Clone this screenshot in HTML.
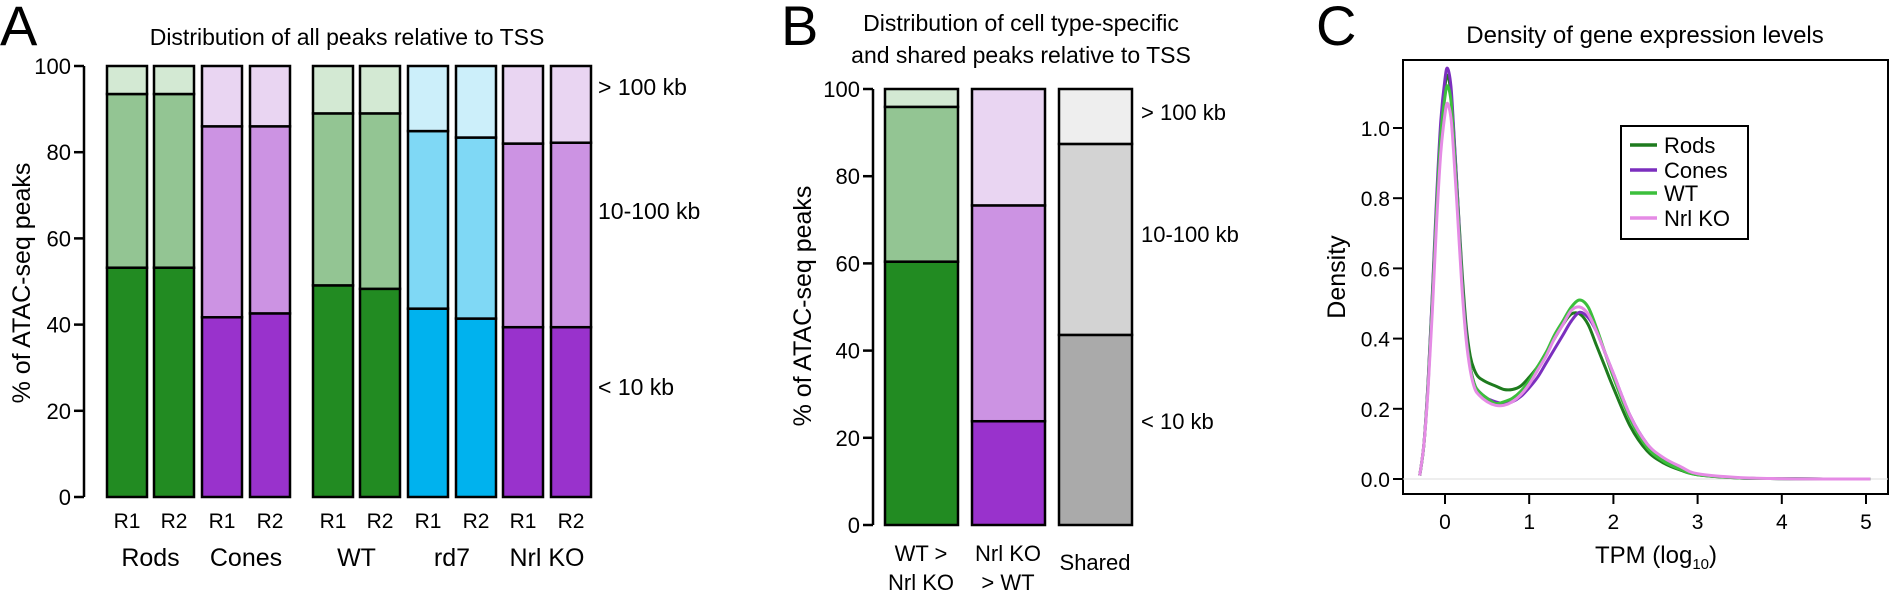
<!DOCTYPE html>
<html><head><meta charset="utf-8"><style>
body{margin:0;background:#fff;}
svg{display:block;font-family:"Liberation Sans",Arial,sans-serif;}
</style></head><body>
<svg id="fig" width="1890" height="591" viewBox="0 0 1890 591"></svg>
<script>
// Panel A data
const aLabels = ["R1","R2","R1","R2","R1","R2","R1","R2","R1","R2"];
const aGroups = ["Rods","Cones","WT","rd7","Nrl KO"];
const aLt10 = [53.2,53.2,41.7,42.6,49.1,48.3,43.7,41.4,39.4,39.4];
const aTo100 = [93.5,93.5,86,86,89,89,84.9,83.4,82,82.2];
const aTicks = [0,20,40,60,80,100];
// Panel B data
const bCats = [["WT >","Nrl KO"],["Nrl KO","> WT"],["Shared"]];
const bLt10 = [60.4,23.8,43.6];
const bTo100 = [95.9,73.3,87.4];
// Panel C data
const cX = [-0.3,-0.25,-0.2,-0.15,-0.1,-0.05,0,0.03,0.07,0.1,0.15,0.2,0.25,0.3,0.35,0.4,0.5,0.6,0.7,0.8,0.9,1.0,1.1,1.2,1.3,1.4,1.5,1.6,1.7,1.8,1.9,2.0,2.2,2.4,2.6,2.8,3.0,3.5,4.0,4.5,5.05];
const cRods = [0.01,0.1,0.28,0.52,0.78,1.0,1.12,1.15,1.1,1.0,0.8,0.6,0.44,0.35,0.31,0.29,0.275,0.265,0.255,0.255,0.265,0.29,0.32,0.36,0.40,0.44,0.47,0.47,0.44,0.38,0.32,0.26,0.15,0.08,0.045,0.025,0.012,0.003,0.001,0,0];
const cCones = [0.01,0.1,0.28,0.53,0.8,1.02,1.14,1.17,1.12,1.01,0.8,0.58,0.42,0.32,0.27,0.25,0.23,0.22,0.215,0.22,0.235,0.26,0.29,0.33,0.37,0.41,0.45,0.475,0.46,0.42,0.36,0.30,0.18,0.10,0.055,0.03,0.013,0.003,0.001,0,0];
const cWT = [0.01,0.1,0.27,0.51,0.77,0.98,1.09,1.12,1.08,0.98,0.78,0.57,0.41,0.32,0.27,0.25,0.23,0.215,0.22,0.23,0.25,0.28,0.32,0.36,0.41,0.45,0.49,0.51,0.49,0.43,0.36,0.29,0.17,0.09,0.05,0.027,0.012,0.003,0.001,0,0];
const cKO = [0.01,0.1,0.26,0.48,0.73,0.93,1.04,1.07,1.03,0.94,0.75,0.55,0.4,0.31,0.26,0.24,0.22,0.21,0.21,0.22,0.24,0.27,0.31,0.35,0.40,0.44,0.48,0.49,0.47,0.42,0.36,0.30,0.18,0.10,0.06,0.035,0.015,0.004,0.001,0,0];
const cXTicks = [0,1,2,3,4,5];
const cYTicks = [0,0.2,0.4,0.6,0.8,1.0];

const NS="http://www.w3.org/2000/svg";
const svg=document.getElementById('fig');
function mk(tag,attrs,parent,text){const e=document.createElementNS(NS,tag);for(const k in attrs)e.setAttribute(k,attrs[k]);if(text!==undefined)e.textContent=text;(parent||svg).appendChild(e);return e;}

// ---------- Panel A ----------
const A={x0:84,y0:497,y100:66};
const ay=v=>A.y0-(A.y0-A.y100)*v/100;
const barX=[107,154,202,250,313,360,408,456,503,551];
const aCols=[["#228B22","#93C593","#D3E9D3"],["#228B22","#93C593","#D3E9D3"],["#9932CC","#CC93E3","#E9D5F2"],["#9932CC","#CC93E3","#E9D5F2"],["#228B22","#93C593","#D3E9D3"],["#228B22","#93C593","#D3E9D3"],["#00B2EE","#7FD8F5","#CCEFFA"],["#00B2EE","#7FD8F5","#CCEFFA"],["#9932CC","#CC93E3","#E9D5F2"],["#9932CC","#CC93E3","#E9D5F2"]];
let t=mk('text',{x:0,y:45,'font-size':56},svg,"A");

t=mk('text',{x:347,y:45,'font-size':23,'text-anchor':'middle'},svg,"Distribution of all peaks relative to TSS");

let l=mk('line',{x1:A.x0,x2:A.x0,y1:ay(0),y2:ay(100),stroke:'#000','stroke-width':2.5});

aTicks.forEach(v=>{
  const tk=mk('line',{x1:A.x0-10,x2:A.x0,y1:ay(v),y2:ay(v),stroke:'#000','stroke-width':2.5});
  
  const tl=mk('text',{x:A.x0-13,y:ay(v)+8,'font-size':22,'text-anchor':'end'},svg,String(v));
  
});
t=mk('text',{x:0,y:0,'font-size':25,'text-anchor':'middle',transform:'translate(30,283) rotate(-90)'},svg,"% of ATAC-seq peaks");

aLt10.forEach((v,i)=>{
  const segs=[[0,v],[v,aTo100[i]],[aTo100[i],100]];
  segs.forEach((s,j)=>{
    const r=mk('rect',{x:barX[i],y:ay(s[1]),width:40,height:ay(s[0])-ay(s[1]),fill:aCols[i][j],stroke:'#000','stroke-width':2.5});
    
  });
  const tl=mk('text',{x:barX[i]+20,y:528,'font-size':21,'text-anchor':'middle'},svg,aLabels[i]);
  
});
aGroups.forEach((g,k)=>{
  const cx=(barX[2*k]+barX[2*k+1]+40)/2;
  const tl=mk('text',{x:cx,y:566,'font-size':25,'text-anchor':'middle'},svg,g);
  
});
[["> 100 kb",87],["10-100 kb",211],["< 10 kb",387]].forEach(d=>{
  const tl=mk('text',{x:598,y:d[1]+8,'font-size':23},svg,d[0]);
  
});

// ---------- Panel B ----------
const B={x0:873,y0:525,y100:89};
const by=v=>B.y0-(B.y0-B.y100)*v/100;
const bX=[885,972,1059];
const bCols=[["#228B22","#93C593","#D3E9D3"],["#9932CC","#CC93E3","#E9D5F2"],["#AAAAAA","#D3D3D3","#EEEEEE"]];
t=mk('text',{x:781,y:45,'font-size':56},svg,"B");

t=mk('text',{x:1021,y:31,'font-size':23,'text-anchor':'middle'},svg,"Distribution of cell type-specific");

t=mk('text',{x:1021,y:63,'font-size':23,'text-anchor':'middle'},svg,"and shared peaks relative to TSS");

l=mk('line',{x1:B.x0,x2:B.x0,y1:by(0),y2:by(100),stroke:'#000','stroke-width':2.5});

aTicks.forEach(v=>{
  const tk=mk('line',{x1:B.x0-10,x2:B.x0,y1:by(v),y2:by(v),stroke:'#000','stroke-width':2.5});
  
  const tl=mk('text',{x:B.x0-13,y:by(v)+8,'font-size':22,'text-anchor':'end'},svg,String(v));
  
});
t=mk('text',{x:0,y:0,'font-size':25,'text-anchor':'middle',transform:'translate(811,306) rotate(-90)'},svg,"% of ATAC-seq peaks");

bLt10.forEach((v,i)=>{
  const segs=[[0,v],[v,bTo100[i]],[bTo100[i],100]];
  segs.forEach((s,j)=>{
    const r=mk('rect',{x:bX[i],y:by(s[1]),width:73,height:by(s[0])-by(s[1]),fill:bCols[i][j],stroke:'#000','stroke-width':2.5});
    
  });
  const lines=bCats[i];
  lines.forEach((ln,k)=>{
    const yy=lines.length===1?570:561+k*29;
    const tl=mk('text',{x:bX[i]+36,y:yy,'font-size':22,'text-anchor':'middle'},svg,ln);
    
  });
});
[["> 100 kb",112],["10-100 kb",234],["< 10 kb",421]].forEach(d=>{
  const tl=mk('text',{x:1141,y:d[1]+8,'font-size':22},svg,d[0]);
  
});

// ---------- Panel C ----------
const C={l:1403,r:1888,t:60,b:494,x0px:1445,xUnit:84.2,y0px:479,yUnit:351};
const cxs=v=>C.x0px+v*C.xUnit;
const cys=v=>C.y0px-v*C.yUnit;
t=mk('text',{x:1316,y:45,'font-size':56},svg,"C");

t=mk('text',{x:1645,y:43,'font-size':24,'text-anchor':'middle'},svg,"Density of gene expression levels");

let r=mk('rect',{x:C.l,y:C.t,width:C.r-C.l,height:C.b-C.t,fill:'none',stroke:'#000','stroke-width':2});

l=mk('line',{x1:C.l,x2:C.r,y1:cys(0),y2:cys(0),stroke:'#ddd','stroke-width':1});

cXTicks.forEach(v=>{
  const tk=mk('line',{x1:cxs(v),x2:cxs(v),y1:C.b,y2:C.b+10,stroke:'#000','stroke-width':2});
  
  const tl=mk('text',{x:cxs(v),y:529,'font-size':21,'text-anchor':'middle'},svg,String(v));
  
});
cYTicks.forEach(v=>{
  const tk=mk('line',{x1:C.l-10,x2:C.l,y1:cys(v),y2:cys(v),stroke:'#000','stroke-width':2});
  
  const tl=mk('text',{x:C.l-13,y:cys(v)+8,'font-size':21,'text-anchor':'end'},svg,v.toFixed(1));
  
});
t=mk('text',{x:1656,y:563,'font-size':24,'text-anchor':'middle'},svg,"");

mk('tspan',{},t,"TPM (log");mk('tspan',{'font-size':15,dy:6},t,"10");mk('tspan',{dy:-6},t,")");
t=mk('text',{x:0,y:0,'font-size':25,'text-anchor':'middle',transform:'translate(1345,277) rotate(-90)'},svg,"Density");

const series=[[cRods,"#1E7B1E","Rods"],[cCones,"#7B2FBE","Cones"],[cWT,"#3CBF3C","WT"],[cKO,"#E58BE5","Nrl KO"]];
function smoothPath(xs,ys){
  const p=xs.map((x,i)=>[cxs(x),cys(ys[i])]);
  let d=`M${p[0][0]},${p[0][1]}`;
  for(let i=0;i<p.length-1;i++){
    const p0=p[i-1]||p[i],p1=p[i],p2=p[i+1],p3=p[i+2]||p2;
    const c1=[p1[0]+(p2[0]-p0[0])/6,p1[1]+(p2[1]-p0[1])/6];
    const c2=[p2[0]-(p3[0]-p1[0])/6,p2[1]-(p3[1]-p1[1])/6];
    d+=` C${c1[0]},${c1[1]} ${c2[0]},${c2[1]} ${p2[0]},${p2[1]}`;
  }
  return d;
}
series.forEach(s=>{
  const pth=mk('path',{d:smoothPath(cX,s[0]),fill:'none',stroke:s[1],'stroke-width':3});
  
  
});
r=mk('rect',{x:1621,y:126,width:127,height:113,fill:'#fff',stroke:'#000','stroke-width':2});

[145,170,193,218].forEach((yy,i)=>{
  const ln=mk('line',{x1:1630,x2:1657,y1:yy,y2:yy,stroke:series[i][1],'stroke-width':3.5});
  
  const tl=mk('text',{x:1664,y:yy+8,'font-size':22},svg,series[i][2]);
  
});
</script>
</body></html>
